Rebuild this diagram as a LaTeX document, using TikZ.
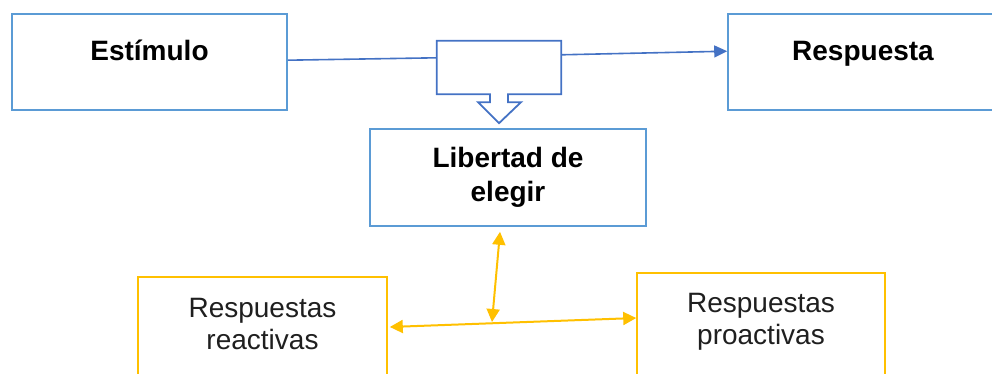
\documentclass[tikz,border=0pt]{standalone}
\usepackage{fontspec}
\setmainfont{Liberation Sans}
\usetikzlibrary{arrows.meta,calc}
\definecolor{boxblue}{HTML}{5B9BD5}
\definecolor{darkblue}{HTML}{4472C4}
\definecolor{gold}{HTML}{FFC000}
\begin{document}
\begin{tikzpicture}[x=1pt,y=-1pt,
  bluebox/.style={draw=boxblue,line width=1.6pt,rectangle,inner sep=0pt},
  goldbox/.style={draw=gold,line width=1.6pt,rectangle,inner sep=0pt},
  boldtxt/.style={font=\fontsize{28}{34}\selectfont\bfseries,align=center,inner sep=0pt},
  regtxt/.style={font=\fontsize{28}{32}\selectfont,align=center,inner sep=0pt,text=black!88},
  blueline/.style={draw=darkblue,line width=1.8pt},
  goldarrow/.style={draw=gold,line width=2pt,{Triangle[length=13pt,width=13pt]}-{Triangle[length=13pt,width=13pt]}}
]
\useasboundingbox (0,0) rectangle (992,374);
\clip (0,0) rectangle (992,374);
% boxes
\node[bluebox,minimum width=275pt,minimum height=96pt] (estimulo) at (149.5,62) {};
\node[bluebox,minimum width=270pt,minimum height=96pt] (respuesta) at (863,62) {};
\node[rectangle,inner sep=0pt,minimum width=124pt,minimum height=53pt] (mid) at (499,67.5) {};
\node[bluebox,minimum width=276pt,minimum height=97pt] (libertad) at (508,177.5) {};
\node[goldbox,minimum width=249pt,minimum height=143pt] (reactivas) at (262.5,348.5) {};
\node[goldbox,minimum width=248pt,minimum height=147pt] (proactivas) at (761,346.5) {};
% texts
\node[boldtxt,anchor=base] (testimulo) at (149.5,61) {Estímulo};
\node[boldtxt,anchor=base] (trespuesta) at (863,61) {Respuesta};
\node[boldtxt] (tlibertad) at (508,177.5) {Libertad de\\elegir};
\node[regtxt] (treactivas) at (262.5,324) {Respuestas\\reactivas};
\node[regtxt] (tproactivas) at (761,322) {Respuestas\\proactivas};
% callout box with hollow down arrow
\draw[blueline,line join=miter]
  (mid.north west) -- (mid.north east) -- (mid.south east)
  -- ($(mid.south)+(9,0)$) -- ($(mid.south)+(9,8)$) -- ($(mid.south)+(22,8)$)
  -- ($(mid.south)+(0,29)$) -- ($(mid.south)+(-21,8)$) -- ($(mid.south)+(-9,8)$)
  -- ($(mid.south)+(-9,0)$) -- (mid.south west) -- cycle;
% connectors
\draw[blueline,line width=1.6pt] ($(estimulo.north east)+(0,47)$) -- ($(mid.north west)+(0,17)$);
\draw[blueline,line width=1.6pt,-{Triangle[length=13pt,width=12pt]}] ($(mid.north east)+(0,14)$) -- ($(respuesta.north west)+(0,38)$);
\coordinate (junction) at (492,322);
\draw[goldarrow] ($(reactivas.east |- 0,327)+(2,0)$) -- ($(proactivas.west |- 0,318)$);
\draw[goldarrow] ($(libertad.south)+(-8,5)$) -- (junction);
\end{tikzpicture}
\end{document}
